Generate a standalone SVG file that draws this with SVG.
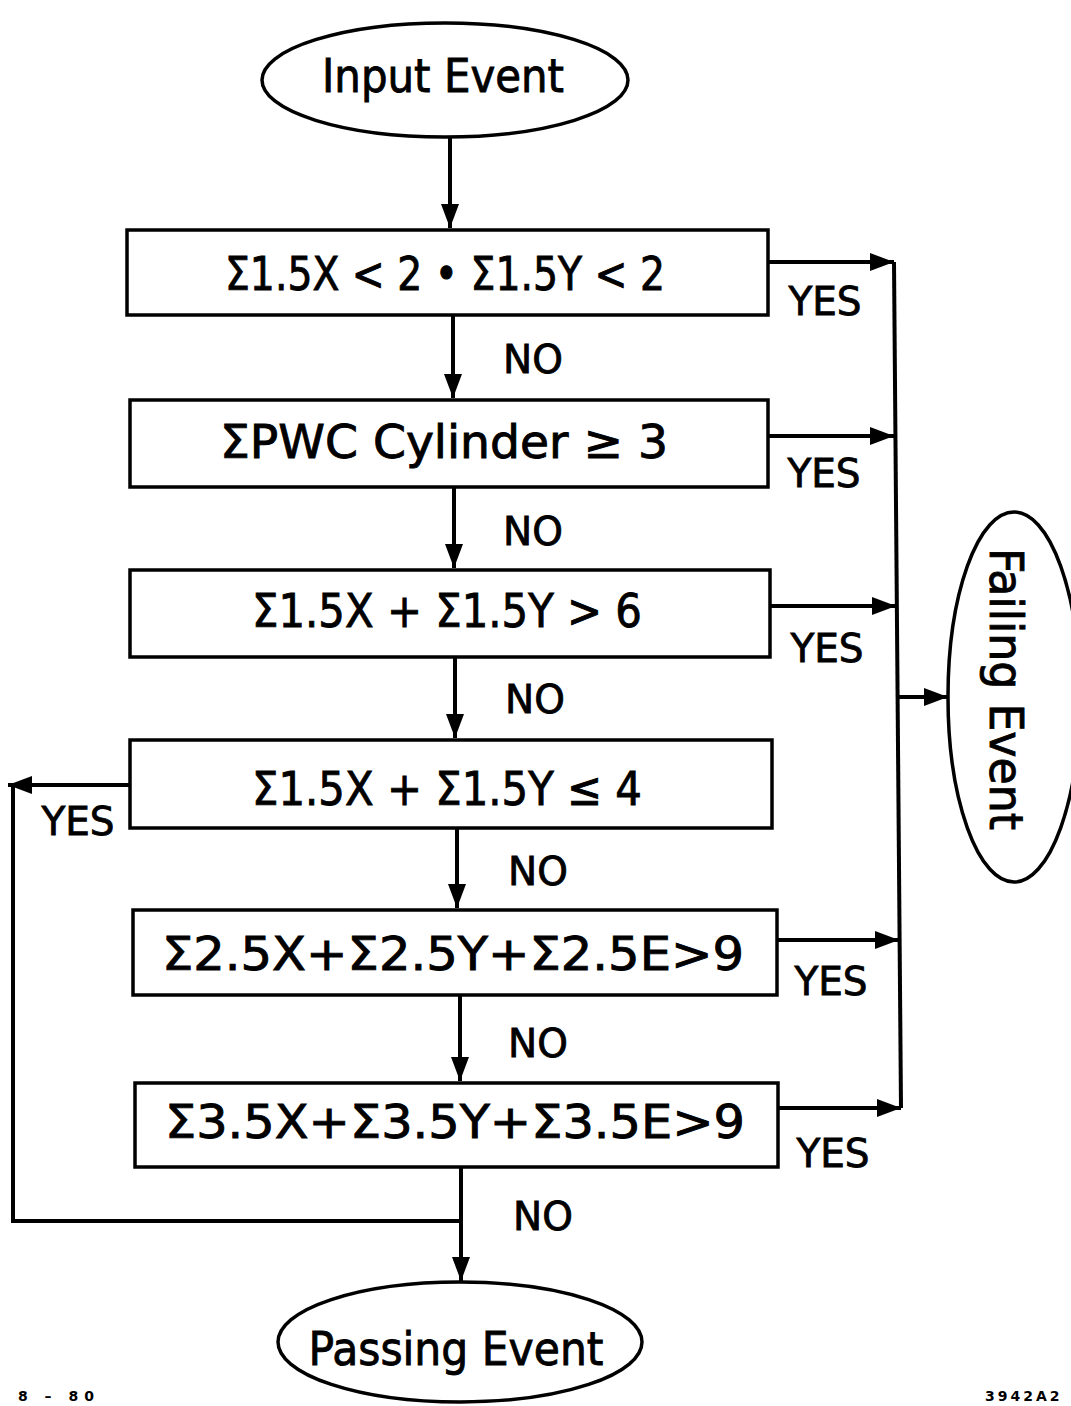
<svg xmlns="http://www.w3.org/2000/svg" width="1071" height="1406" viewBox="0 0 1071 1406">
<style>
.n{fill:none;stroke:#000;stroke-width:3.5}
.c{fill:none;stroke:#000;stroke-width:4}
.t{font-family:"DejaVu Sans","Liberation Sans",sans-serif;font-size:46px;fill:#000;stroke:#000;stroke-width:0.9;text-anchor:middle}
.l{font-family:"DejaVu Sans","Liberation Sans",sans-serif;font-size:39px;fill:#000;stroke:#000;stroke-width:0.8;text-anchor:middle}
.s{font-family:"DejaVu Sans","Liberation Sans",sans-serif;font-size:14px;font-weight:bold;fill:#000}
</style>
<defs>
<marker id="a" markerUnits="userSpaceOnUse" markerWidth="26" markerHeight="20" refX="24" refY="10" orient="auto">
<path d="M0,1 L24,10 L0,19 Z" fill="#000"/>
</marker>
</defs>
<rect width="1071" height="1406" fill="#fff"/>
<g id="connectors">
<path class="c" d="M450,137 V228" marker-end="url(#a)"/>
<path class="c" d="M453,315 V398" marker-end="url(#a)"/>
<path class="c" d="M454,487 V568" marker-end="url(#a)"/>
<path class="c" d="M455,657 V738" marker-end="url(#a)"/>
<path class="c" d="M457,828 V908" marker-end="url(#a)"/>
<path class="c" d="M460,995 V1081" marker-end="url(#a)"/>
<path class="c" d="M461,1167 V1281" marker-end="url(#a)"/>
<path class="c" d="M461,1221 H13 V785"/>
<path class="c" d="M130,785 H8" marker-end="url(#a)"/>
<path class="c" d="M768,262 H894" marker-end="url(#a)"/>
<path class="c" d="M768,436 H894" marker-end="url(#a)"/>
<path class="c" d="M770,606 H896" marker-end="url(#a)"/>
<path class="c" d="M777,940 H899" marker-end="url(#a)"/>
<path class="c" d="M778,1108 H901" marker-end="url(#a)"/>
<path class="c" d="M894,262 L901,1108"/>
<path class="c" d="M898,697 H948" marker-end="url(#a)"/>
<text class="l" x="825" y="315">YES</text>
<text class="l" x="824" y="487">YES</text>
<text class="l" x="827" y="662">YES</text>
<text class="l" x="78" y="835">YES</text>
<text class="l" x="831" y="995">YES</text>
<text class="l" x="833" y="1167">YES</text>
<text class="l" x="533" y="373">NO</text>
<text class="l" x="533" y="545">NO</text>
<text class="l" x="535" y="713">NO</text>
<text class="l" x="538" y="885">NO</text>
<text class="l" x="538" y="1057">NO</text>
<text class="l" x="543" y="1230">NO</text>
</g>
<g id="input">
<ellipse class="n" cx="445" cy="80" rx="183" ry="57"/>
<text class="t" x="443" y="92" textLength="242" lengthAdjust="spacingAndGlyphs">Input Event</text>
</g>
<g id="box1">
<rect class="n" x="127" y="230" width="641" height="85"/>
<text class="t" x="445" y="290" textLength="440" lengthAdjust="spacingAndGlyphs">Σ1.5X &lt; 2 • Σ1.5Y &lt; 2</text>
</g>
<g id="box2">
<rect class="n" x="130" y="400" width="638" height="87"/>
<text class="t" x="444" y="458" textLength="448" lengthAdjust="spacingAndGlyphs">ΣPWC Cylinder ≥ 3</text>
</g>
<g id="box3">
<rect class="n" x="130" y="570" width="640" height="87"/>
<text class="t" x="447" y="627" textLength="390" lengthAdjust="spacingAndGlyphs">Σ1.5X + Σ1.5Y &gt; 6</text>
</g>
<g id="box4">
<rect class="n" x="130" y="740" width="642" height="88"/>
<text class="t" x="447" y="805" textLength="390" lengthAdjust="spacingAndGlyphs">Σ1.5X + Σ1.5Y ≤ 4</text>
</g>
<g id="box5">
<rect class="n" x="133" y="910" width="644" height="85"/>
<text class="t" x="453" y="970" textLength="582" lengthAdjust="spacingAndGlyphs">Σ2.5X+Σ2.5Y+Σ2.5E&gt;9</text>
</g>
<g id="box6">
<rect class="n" x="135" y="1083" width="643" height="84"/>
<text class="t" x="455" y="1138" textLength="580" lengthAdjust="spacingAndGlyphs">Σ3.5X+Σ3.5Y+Σ3.5E&gt;9</text>
</g>
<g id="failing">
<ellipse class="n" cx="1014" cy="697" rx="66" ry="185"/>
<text class="t" transform="translate(1005,689) rotate(90)" x="0" y="0" dy="15" textLength="282" lengthAdjust="spacingAndGlyphs">Failing Event</text>
</g>
<g id="passing">
<ellipse class="n" cx="460" cy="1342" rx="182" ry="60"/>
<text class="t" x="456" y="1365" textLength="295" lengthAdjust="spacingAndGlyphs">Passing Event</text>
</g>
<text class="s" x="18" y="1401" letter-spacing="6">8 – 80</text>
<text class="s" x="985" y="1401" letter-spacing="3">3942A2</text>
</svg>
